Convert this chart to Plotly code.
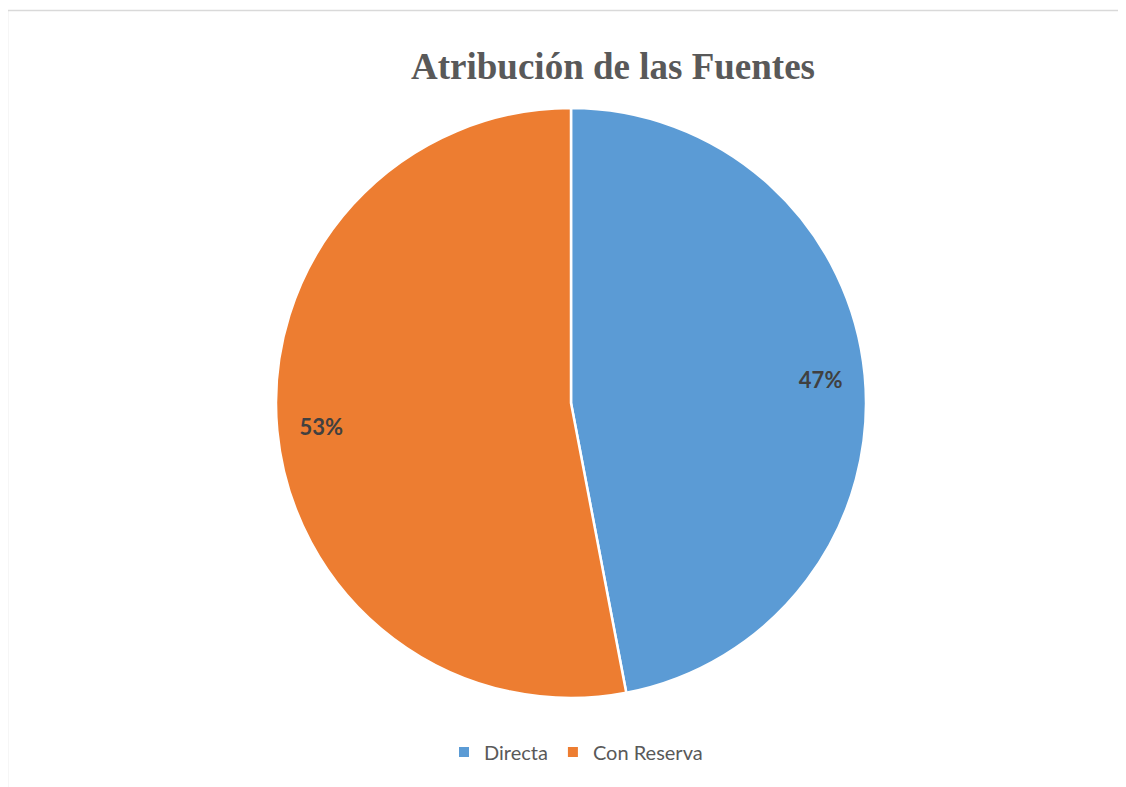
import plotly.graph_objects as go

# page body has an 8px margin, so work in a shifted pixel frame
OFF = 8
W, H = 1126 - OFF, 787 - OFF

labels = ["Directa", "Con Reserva"]
values = [47, 53]
colors = ["#5B9BD5", "#ED7D31"]


def px(x):
    return (x - OFF) / W


def py(y):
    return 1 - (y - OFF) / H


# pie position in pixels (from the reference)
cx, cy, r = 571, 403, 295
dom_x = [px(cx - r), px(cx + r)]
dom_y = [py(cy + r), py(cy - r)]

fig = go.Figure()

# main pie
fig.add_trace(go.Pie(
    labels=labels,
    values=values,
    sort=False,
    direction="clockwise",
    rotation=0,
    marker=dict(colors=colors, line=dict(color="white", width=2.5)),
    textinfo="none",
    domain=dict(x=dom_x, y=dom_y),
    hoverinfo="label+percent",
))

# transparent ring on top, only to put the % labels near the edge
fig.add_trace(go.Pie(
    labels=labels,
    values=values,
    sort=False,
    direction="clockwise",
    rotation=0,
    hole=0.7,
    marker=dict(colors=["rgba(0,0,0,0)", "rgba(0,0,0,0)"], line=dict(width=0)),
    texttemplate="%{percent:.0%}",
    textposition="inside",
    insidetextorientation="horizontal",
    textfont=dict(family="Lato", size=22, color="#404040", weight="bold"),
    domain=dict(x=dom_x, y=dom_y),
    showlegend=False,
    hoverinfo="skip",
))

fig.update_layout(
    width=W,
    height=H,
    margin=dict(l=0, r=0, t=0, b=0),
    paper_bgcolor="white",
    plot_bgcolor="white",
    title=dict(
        text="<b>Atribución de las Fuentes</b>",
        font=dict(family="Liberation Serif", size=37, color="#595959"),
        x=px(613),
        xanchor="center",
        y=py(66),
        yanchor="middle",
    ),
    legend=dict(
        orientation="h",
        x=px(576),
        xanchor="center",
        y=py(752),
        yanchor="middle",
        font=dict(family="Lato", size=20, color="#595959"),
        itemsizing="constant",
    ),
    shapes=[dict(
        type="rect", xref="paper", yref="paper",
        x0=px(7.5), x1=1.02, y0=-0.02, y1=py(10.5),
        line=dict(color="#D9D9D9", width=1.5),
        layer="below",
    )],
)

fig.write_html("out.html")
